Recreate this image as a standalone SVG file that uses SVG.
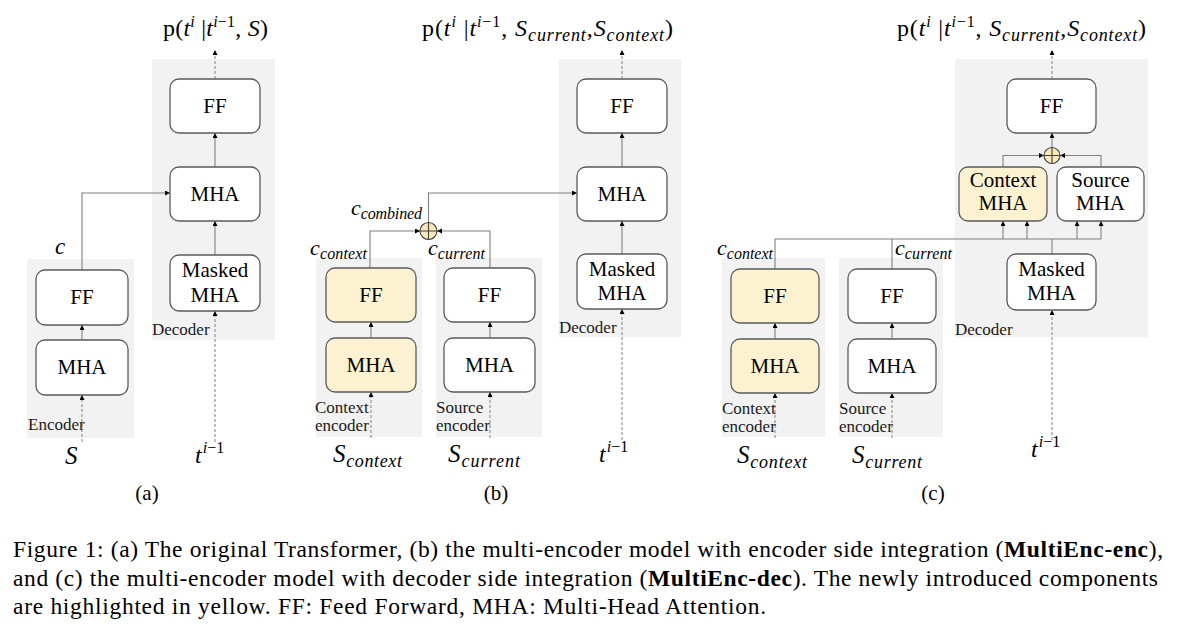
<svg xmlns="http://www.w3.org/2000/svg" width="1200" height="624" viewBox="0 0 1200 624">
<defs>
<style>
.bg{fill:#f2f2f2}
.box{fill:#ffffff;stroke:#5a5a5a;stroke-width:1.3}
.yel{fill:#fcf1d0}
.ln{stroke:#808080;stroke-width:1.1;fill:none}
.dash{stroke:#8c8c8c;stroke-width:1.1;stroke-dasharray:3 2;fill:none}
.t{font-family:"Liberation Serif","Times New Roman",serif;font-size:21px;fill:#000;text-anchor:middle}
.lab{font-family:"Liberation Serif","Times New Roman",serif;font-size:17px;fill:#1a1a1a}
.m{font-family:"Liberation Serif","Times New Roman",serif;font-size:24px;fill:#000}
.i{font-style:italic}
.sup{font-size:16px}
.sub{font-size:18px;font-style:italic}
.csub{font-size:16px;font-style:italic}
.cap{font-family:"Liberation Serif","Times New Roman",serif;font-size:23.5px;fill:#000}
.b{font-weight:bold}
.plus{fill:#fbe8b8;stroke:#404040;stroke-width:1.1}
</style>
<marker id="ah" markerUnits="userSpaceOnUse" markerWidth="6" markerHeight="6" refX="5" refY="2.5" orient="auto">
<path d="M0,0 L5,2.5 L0,5 z" fill="#000"/>
</marker>
</defs>

<!-- backgrounds -->
<g id="backgrounds">
<rect class="bg" x="27" y="259" width="107" height="179"/>
<rect class="bg" x="152" y="59" width="123" height="281"/>
<rect class="bg" x="316" y="258" width="106" height="179"/>
<rect class="bg" x="436" y="258" width="106" height="179"/>
<rect class="bg" x="559" y="59" width="122" height="278"/>
<rect class="bg" x="722" y="258" width="103" height="179"/>
<rect class="bg" x="839" y="258" width="104" height="179"/>
<rect class="bg" x="955" y="59" width="193" height="278"/>
</g>

<!-- connectors -->
<g id="connectors">
<!-- (a) -->
<line class="dash" x1="215" y1="79" x2="215" y2="50" marker-end="url(#ah)"/>
<line class="ln" x1="215" y1="167" x2="215" y2="133" marker-end="url(#ah)"/>
<line class="ln" x1="215" y1="255" x2="215" y2="221" marker-end="url(#ah)"/>
<line class="dash" x1="215" y1="442" x2="215" y2="311" marker-end="url(#ah)"/>
<polyline class="ln" points="82,270 82,193 170,193" marker-end="url(#ah)"/>
<line class="ln" x1="82" y1="340" x2="82" y2="325" marker-end="url(#ah)"/>
<line class="dash" x1="82" y1="442" x2="82" y2="395" marker-end="url(#ah)"/>
<!-- (b) -->
<line class="dash" x1="622" y1="79" x2="622" y2="50" marker-end="url(#ah)"/>
<line class="ln" x1="622" y1="167" x2="622" y2="133" marker-end="url(#ah)"/>
<line class="ln" x1="622" y1="254" x2="622" y2="221" marker-end="url(#ah)"/>
<line class="dash" x1="622" y1="440" x2="622" y2="309" marker-end="url(#ah)"/>
<polyline class="ln" points="370,268 370,231 420,231" marker-end="url(#ah)"/>
<polyline class="ln" points="490,268 490,231 437,231" marker-end="url(#ah)"/>
<polyline class="ln" points="428.5,222.5 428.5,193 577,193" marker-end="url(#ah)"/>
<line class="ln" x1="371" y1="338" x2="371" y2="322" marker-end="url(#ah)"/>
<line class="ln" x1="490" y1="338" x2="490" y2="322" marker-end="url(#ah)"/>
<line class="dash" x1="371" y1="438" x2="371" y2="392" marker-end="url(#ah)"/>
<line class="dash" x1="490" y1="438" x2="490" y2="392" marker-end="url(#ah)"/>
<!-- (c) -->
<line class="dash" x1="1052" y1="79" x2="1052" y2="50" marker-end="url(#ah)"/>
<line class="ln" x1="1052" y1="147" x2="1052" y2="133" marker-end="url(#ah)"/>
<polyline class="ln" points="1003,167 1003,155.5 1044,155.5" marker-end="url(#ah)"/>
<polyline class="ln" points="1101,167 1101,155.5 1060,155.5" marker-end="url(#ah)"/>
<line class="ln" x1="775" y1="239" x2="1101" y2="239"/>
<line class="ln" x1="775" y1="269" x2="775" y2="239"/>
<line class="ln" x1="892" y1="269" x2="892" y2="239"/>
<line class="ln" x1="1052" y1="254" x2="1052" y2="239"/>
<line class="ln" x1="1003" y1="239" x2="1003" y2="221" marker-end="url(#ah)"/>
<line class="ln" x1="1027" y1="239" x2="1027" y2="221" marker-end="url(#ah)"/>
<line class="ln" x1="1077" y1="239" x2="1077" y2="221" marker-end="url(#ah)"/>
<line class="ln" x1="1101" y1="239" x2="1101" y2="221" marker-end="url(#ah)"/>
<line class="ln" x1="775" y1="339" x2="775" y2="323" marker-end="url(#ah)"/>
<line class="ln" x1="892" y1="339" x2="892" y2="323" marker-end="url(#ah)"/>
<line class="dash" x1="775" y1="438" x2="775" y2="393" marker-end="url(#ah)"/>
<line class="dash" x1="892" y1="438" x2="892" y2="393" marker-end="url(#ah)"/>
<line class="dash" x1="1052" y1="440" x2="1052" y2="310" marker-end="url(#ah)"/>
</g>

<!-- (a) nodes -->
<g id="a-dec-ff"><rect class="box" x="170" y="79" width="90" height="54" rx="9"/><text class="t" x="215" y="113">FF</text></g>
<g id="a-dec-mha"><rect class="box" x="170" y="167" width="90" height="54" rx="9"/><text class="t" x="215" y="201">MHA</text></g>
<g id="a-dec-masked"><rect class="box" x="170" y="255" width="90" height="56" rx="9"/><text class="t" x="215" y="277">Masked</text><text class="t" x="215" y="302">MHA</text></g>
<g id="a-enc-ff"><rect class="box" x="36" y="270" width="92" height="55" rx="9"/><text class="t" x="82" y="304">FF</text></g>
<g id="a-enc-mha"><rect class="box" x="36" y="340" width="92" height="55" rx="9"/><text class="t" x="82" y="374">MHA</text></g>

<!-- (b) nodes -->
<g id="b-dec-ff"><rect class="box" x="577" y="79" width="90" height="54" rx="9"/><text class="t" x="622" y="113">FF</text></g>
<g id="b-dec-mha"><rect class="box" x="577" y="167" width="90" height="54" rx="9"/><text class="t" x="622" y="201">MHA</text></g>
<g id="b-dec-masked"><rect class="box" x="577" y="254" width="90" height="55" rx="9"/><text class="t" x="622" y="276">Masked</text><text class="t" x="622" y="300">MHA</text></g>
<g id="b-ctx-ff"><rect class="box yel" x="326" y="268" width="90" height="54" rx="9"/><text class="t" x="371" y="302">FF</text></g>
<g id="b-ctx-mha"><rect class="box yel" x="326" y="338" width="90" height="54" rx="9"/><text class="t" x="371" y="372">MHA</text></g>
<g id="b-src-ff"><rect class="box" x="444" y="268" width="91" height="54" rx="9"/><text class="t" x="489.5" y="302">FF</text></g>
<g id="b-src-mha"><rect class="box" x="444" y="338" width="91" height="54" rx="9"/><text class="t" x="489.5" y="372">MHA</text></g>
<g id="b-plus"><circle class="plus" cx="428.5" cy="231" r="8.5"/><path d="M420,231 H437 M428.5,222.5 V239.5" stroke="#404040" stroke-width="1.1"/></g>

<!-- (c) nodes -->
<g id="c-dec-ff"><rect class="box" x="1007" y="79" width="89" height="54" rx="9"/><text class="t" x="1051.5" y="113">FF</text></g>
<g id="c-dec-ctxmha"><rect class="box yel" x="959" y="167" width="88" height="54" rx="9"/><text class="t" x="1003" y="187">Context</text><text class="t" x="1003" y="210">MHA</text></g>
<g id="c-dec-srcmha"><rect class="box" x="1057" y="167" width="87" height="54" rx="9"/><text class="t" x="1100.5" y="187">Source</text><text class="t" x="1100.5" y="210">MHA</text></g>
<g id="c-dec-masked"><rect class="box" x="1007" y="254" width="89" height="56" rx="9"/><text class="t" x="1051.5" y="276">Masked</text><text class="t" x="1051.5" y="300">MHA</text></g>
<g id="c-ctx-ff"><rect class="box yel" x="731" y="269" width="88" height="54" rx="9"/><text class="t" x="775" y="303">FF</text></g>
<g id="c-ctx-mha"><rect class="box yel" x="731" y="339" width="88" height="54" rx="9"/><text class="t" x="775" y="373">MHA</text></g>
<g id="c-src-ff"><rect class="box" x="848" y="269" width="88" height="54" rx="9"/><text class="t" x="892" y="303">FF</text></g>
<g id="c-src-mha"><rect class="box" x="848" y="339" width="88" height="54" rx="9"/><text class="t" x="892" y="373">MHA</text></g>
<g id="c-plus"><circle class="plus" cx="1052" cy="155.5" r="8"/><path d="M1044,155.5 H1060 M1052,147.5 V163.5" stroke="#404040" stroke-width="1.1"/></g>

<!-- labels -->
<g id="labels">
<text class="lab" x="28" y="430">Encoder</text>
<text class="lab" x="152" y="335">Decoder</text>
<text class="lab" x="559" y="333">Decoder</text>
<text class="lab" x="955" y="335">Decoder</text>
<text class="lab" x="315" y="413">Context</text>
<text class="lab" x="315" y="431">encoder</text>
<text class="lab" x="436" y="413">Source</text>
<text class="lab" x="436" y="431">encoder</text>
<text class="lab" x="722" y="414">Context</text>
<text class="lab" x="722" y="432">encoder</text>
<text class="lab" x="839" y="414">Source</text>
<text class="lab" x="839" y="432">encoder</text>

<!-- output probabilities -->
<text class="m" x="163" y="36" textLength="105" lengthAdjust="spacing">p(<tspan class="i">t</tspan><tspan class="sup i" dy="-9">i</tspan><tspan dy="9"> |</tspan><tspan class="i">t</tspan><tspan class="sup" dy="-9"><tspan class="i">i</tspan>−1</tspan><tspan dy="9">, </tspan><tspan class="i">S</tspan>)</text>
<text class="m" x="422" y="36" textLength="251" lengthAdjust="spacing">p(<tspan class="i">t</tspan><tspan class="sup i" dy="-9">i</tspan><tspan dy="9"> |</tspan><tspan class="i">t</tspan><tspan class="sup" dy="-9"><tspan class="i">i</tspan>−1</tspan><tspan dy="9">,  </tspan><tspan class="i">S</tspan><tspan class="sub" dy="5">current</tspan><tspan dy="-5">,</tspan><tspan class="i">S</tspan><tspan class="sub" dy="5">context</tspan><tspan dy="-5">)</tspan></text>
<text class="m" x="897" y="36" textLength="249" lengthAdjust="spacing">p(<tspan class="i">t</tspan><tspan class="sup i" dy="-9">i</tspan><tspan dy="9"> |</tspan><tspan class="i">t</tspan><tspan class="sup" dy="-9"><tspan class="i">i</tspan>−1</tspan><tspan dy="9">,  </tspan><tspan class="i">S</tspan><tspan class="sub" dy="5">current</tspan><tspan dy="-5">,</tspan><tspan class="i">S</tspan><tspan class="sub" dy="5">context</tspan><tspan dy="-5">)</tspan></text>

<!-- c labels -->
<text class="m i" x="55" y="254" style="font-size:23px">c</text>
<text class="m" x="351" y="215" textLength="71" lengthAdjust="spacing"><tspan class="i" style="font-size:22px">c</tspan><tspan class="csub" dy="4">combined</tspan></text>
<text class="m" x="310" y="255" textLength="57" lengthAdjust="spacing"><tspan class="i" style="font-size:22px">c</tspan><tspan class="csub" dy="4">context</tspan></text>
<text class="m" x="428" y="255" textLength="57" lengthAdjust="spacing"><tspan class="i" style="font-size:22px">c</tspan><tspan class="csub" dy="4">current</tspan></text>
<text class="m" x="717" y="255" textLength="56" lengthAdjust="spacing"><tspan class="i" style="font-size:22px">c</tspan><tspan class="csub" dy="4">context</tspan></text>
<text class="m" x="895" y="255" textLength="57" lengthAdjust="spacing"><tspan class="i" style="font-size:22px">c</tspan><tspan class="csub" dy="4">current</tspan></text>

<!-- inputs -->
<text class="m i" x="65" y="464" style="font-size:25px">S</text>
<text class="m" x="195" y="463"><tspan class="i">t</tspan><tspan class="sup" dy="-10" dx="1"><tspan class="i">i</tspan>−1</tspan></text>
<text class="m" x="333" y="462" textLength="69" lengthAdjust="spacing"><tspan class="i" style="font-size:25px">S</tspan><tspan class="sub" dy="5">context</tspan></text>
<text class="m" x="448" y="462" textLength="72" lengthAdjust="spacing"><tspan class="i" style="font-size:25px">S</tspan><tspan class="sub" dy="5">current</tspan></text>
<text class="m" x="599" y="462"><tspan class="i">t</tspan><tspan class="sup" dy="-10" dx="1"><tspan class="i">i</tspan>−1</tspan></text>
<text class="m" x="737" y="463" textLength="70" lengthAdjust="spacing"><tspan class="i" style="font-size:25px">S</tspan><tspan class="sub" dy="5">context</tspan></text>
<text class="m" x="852" y="463" textLength="70" lengthAdjust="spacing"><tspan class="i" style="font-size:25px">S</tspan><tspan class="sub" dy="5">current</tspan></text>
<text class="m" x="1031" y="457"><tspan class="i">t</tspan><tspan class="sup" dy="-10" dx="1"><tspan class="i">i</tspan>−1</tspan></text>

<!-- panel tags -->
<text class="t" x="147" y="500">(a)</text>
<text class="t" x="496" y="500">(b)</text>
<text class="t" x="933" y="500">(c)</text>
</g>

<!-- caption -->
<g id="caption">
<text class="cap" x="13" y="557" textLength="1150" lengthAdjust="spacing">Figure 1: (a) The original Transformer, (b) the multi-encoder model with encoder side integration (<tspan class="b">MultiEnc-enc</tspan>),</text>
<text class="cap" x="13" y="585.5" textLength="1145" lengthAdjust="spacing">and (c) the multi-encoder model with decoder side integration (<tspan class="b">MultiEnc-dec</tspan>). The newly introduced components</text>
<text class="cap" x="13" y="614" textLength="753" lengthAdjust="spacing">are highlighted in yellow. FF: Feed Forward, MHA: Multi-Head Attention.</text>
</g>
</svg>
